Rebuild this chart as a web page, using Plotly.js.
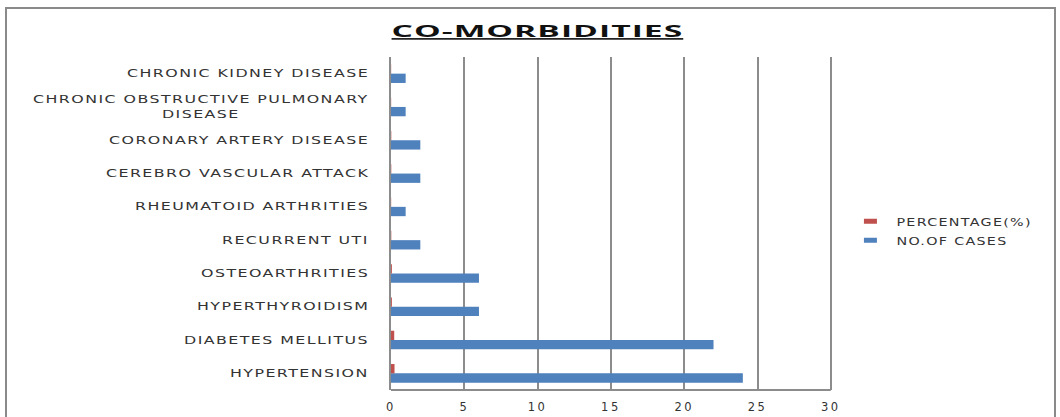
<!DOCTYPE html>
<html><head><meta charset="utf-8">
<script src="https://cdn.plot.ly/plotly-3.0.1.min.js"></script>
<style>
html,body{margin:0;padding:0;background:#fff;}
#wrap{position:relative;width:1060px;height:417px;overflow:hidden;}
#chart{width:1060px;height:417px;}
#frame{position:absolute;left:5px;top:7px;width:1047px;height:430px;border:2px solid #8a8a8a;pointer-events:none;}
.annotation-text{letter-spacing:1px; transform:scaleX(1.44); transform-box:fill-box; transform-origin:right center;}
.xtick text{letter-spacing:2.5px;}
.legendtext{letter-spacing:1px; transform:scaleX(1.3); transform-box:fill-box; transform-origin:left center;}
.gtitle{letter-spacing:0.5px; transform:scaleX(2.1); transform-box:fill-box; transform-origin:center;}
</style>
</head><body>
<div id="wrap"><div id="chart"></div><div id="frame"></div></div>
<script>
var categories = ["HYPERTENSION","DIABETES MELLITUS","HYPERTHYROIDISM","OSTEOARTHRITIES","RECURRENT UTI","RHEUMATOID ARTHRITIES","CEREBRO VASCULAR ATTACK","CORONARY ARTERY DISEASE","CHRONIC OBSTRUCTIVE PULMONARY<br>DISEASE","CHRONIC KIDNEY DISEASE"];
var noOfCases = [24,22,6,6,2,1,2,2,1,1];
var percentage = [0.24,0.22,0.06,0.06,0.02,0.01,0.02,0.02,0.01,0.01];
var xTicks = [0,5,10,15,20,25,30];

var fontFam = "DejaVu Sans";
var traces = [
  {type:'bar', orientation:'h', name:'NO.OF CASES', y:categories, x:noOfCases, marker:{color:'#4F81BD'}},
  {type:'bar', orientation:'h', name:'PERCENTAGE(%)', y:categories, x:percentage, marker:{color:'#C0504D'}}
];
var annotations = categories.map(function(c){
  return {xref:'paper', x:0, xanchor:'right', xshift:-20, yref:'y', y:c, text:c, showarrow:false, align:'center',
          font:{family:fontFam, size:11, color:'#333'}};
});
var layout = {
  width:1060, height:417,
  margin:{l:391, r:227, t:57, b:27, pad:0},
  paper_bgcolor:'#fff', plot_bgcolor:'#fff',
  title:{text:'CO-MORBIDITIES', x:0.507, xanchor:'center', y:0.925, yanchor:'middle',
         font:{family:'Open Sans, sans-serif', size:16, weight:700, color:'#111', lineposition:'under'}},
  barmode:'group', bargap:0.44, bargroupgap:0,
  showlegend:true,
  legend:{x:1.053, xanchor:'left', y:0.55, yanchor:'top', traceorder:'reversed',
          font:{family:fontFam, size:11, color:'#333'}, itemwidth:30, tracegroupgap:0},
  xaxis:{range:[0,30.15], tickvals:xTicks, ticktext:xTicks.map(String), showgrid:true, gridcolor:'#8c8c8c', gridwidth:2,
         showline:false, zeroline:false, ticks:'outside', ticklen:6, tickcolor:'rgba(0,0,0,0)',
         tickfont:{family:fontFam, size:11.5, color:'#333'}, fixedrange:true},
  yaxis:{type:'category', categoryorder:'array', categoryarray:categories, showticklabels:false,
         showline:true, linecolor:'#8c8c8c', linewidth:2, showgrid:false, zeroline:false, ticks:'', fixedrange:true},
  shapes:[{type:'line', xref:'x', x0:xTicks[0], x1:xTicks[xTicks.length-1], yref:'paper', y0:0, y1:0, line:{color:'#8c8c8c', width:2}}],
  annotations:annotations
};
Plotly.newPlot('chart', traces, layout, {displayModeBar:false, staticPlot:true}).then(function(gd){
  var paths = gd.querySelectorAll('.legendpoints path');
  paths.forEach(function(p){ p.setAttribute('d','M0.5,2.5H-12.5V-2.5H0.5Z'); });
});
</script>
</body></html>
